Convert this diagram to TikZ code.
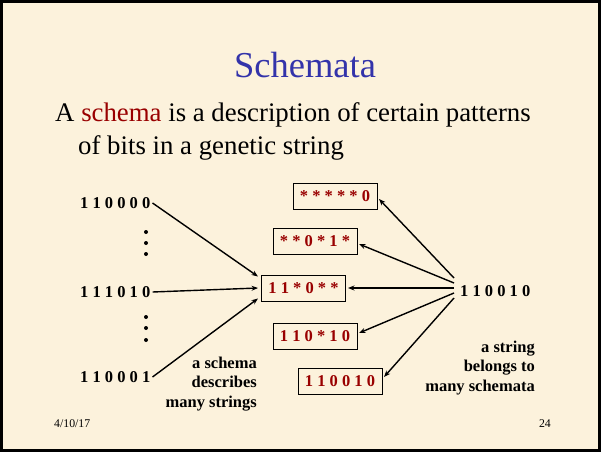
\documentclass[tikz,border=0pt]{standalone}
\usepackage{fontspec}
\setmainfont{Liberation Serif}
\usetikzlibrary{arrows.meta}
\definecolor{bg}{RGB}{252,242,220}
\definecolor{ttl}{RGB}{51,51,170}
\definecolor{dred}{RGB}{153,0,0}
\begin{document}
\begin{tikzpicture}[x=1pt,y=-1pt,
  str/.style={font=\fontsize{16.5}{19}\selectfont\bfseries, inner sep=0pt},
  schbox/.style={draw, line width=1pt, font=\fontsize{16.5}{19}\selectfont\bfseries, text=dred, minimum width=84pt, minimum height=26pt, inner sep=0pt},
  arr/.style={-{Stealth[length=6.5pt,width=5pt]}, line width=1.4pt},
  note/.style={font=\fontsize{16.5}{19.5}\selectfont\bfseries, align=right, inner sep=0pt},
  dot/.style={circle, fill, inner sep=0pt, minimum size=4pt}]
\fill[bg] (0,0) rectangle (601,452);
\draw[line width=3pt] (1.5,1.5) rectangle (599.5,450.5);
\useasboundingbox (0,0) rectangle (601,452);

\node[font=\fontsize{36.5}{40}\selectfont, text=ttl, anchor=base, inner sep=0pt] (title) at (305,77) {Schemata};
\node[anchor=base west, font=\fontsize{26.8}{33}\selectfont, inner sep=0pt] (l1) at (55,121) {A \textcolor{dred}{schema} is a description of certain patterns};
\node[anchor=base west, font=\fontsize{26.8}{33}\selectfont, inner sep=0pt] (l2) at (78,154) {of bits in a genetic string};

\node[str, anchor=west] (s1) at (80,203) {1 1 0 0 0 0};
\node[str, anchor=west] (s2) at (80,292) {1 1 1 0 1 0};
\node[str, anchor=west] (s3) at (80,377) {1 1 0 0 0 1};
\node[dot] (d1) at (146,232) {};
\node[dot] (d2) at (146,243) {};
\node[dot] (d3) at (146,254) {};
\node[dot] (d4) at (146,317) {};
\node[dot] (d5) at (146,328) {};
\node[dot] (d6) at (146,340) {};

\node[schbox] (b1) at (335,196) {* * * * * 0};
\node[schbox] (b2) at (315,241) {* * 0 * 1 *};
\node[schbox] (c)  at (303.5,288) {1 1 * 0 * *};
\node[schbox] (b4) at (315,336) {1 1 0 * 1 0};
\node[schbox] (b5) at (340,381.5) {1 1 0 0 1 0};

\node[str, anchor=west] (r) at (460,291) {1 1 0 0 1 0};

\draw[arr] ([xshift=2pt]s1.east) -- ([shift={(-3,2)}]c.north west);
\draw[arr] ([xshift=2pt]s2.east) -- ([xshift=-3pt]c.west);
\draw[arr] ([xshift=2pt]s3.east) -- ([shift={(-3,-3)}]c.south west);

\draw[arr] ([shift={(-6,-13)}]r.west) -- ([shift={(1.5,3)}]b1.east);
\draw[arr] ([shift={(-6,-8)}]r.west) -- ([shift={(1.5,3)}]b2.east);
\draw[arr] ([shift={(-6,-3)}]r.west) -- ([xshift=2pt]c.east);
\draw[arr] ([shift={(-6,2)}]r.west) -- ([shift={(1.5,-3)}]b4.east);
\draw[arr] ([shift={(-6,7)}]r.west) -- ([shift={(1.5,-4.5)}]b5.east);

\node[note, anchor=north east] (n1) at (257,356.5) {a schema\\describes\\many strings};
\node[note, anchor=north east] (n2) at (535,340.5) {a string\\belongs to\\many schemata};

\node[anchor=base west, font=\fontsize{11.8}{14}\selectfont, inner sep=0pt] (date) at (54,427) {4/10/17};
\node[anchor=base east, font=\fontsize{11.8}{14}\selectfont, inner sep=0pt] (pg) at (551,427) {24};
\end{tikzpicture}
\end{document}
